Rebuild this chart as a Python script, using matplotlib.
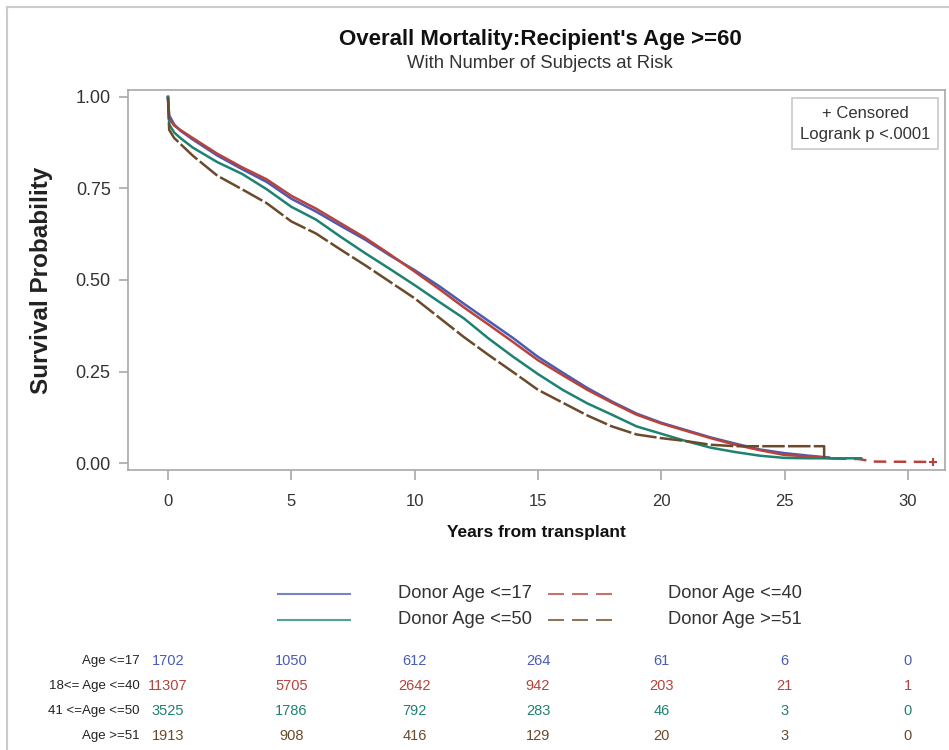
import matplotlib
matplotlib.use('Agg')
import matplotlib.pyplot as plt
import matplotlib.transforms as mtransforms
from matplotlib.lines import Line2D
from matplotlib.ticker import FormatStrFormatter

plt.rcParams['font.family'] = ['Liberation Sans', 'DejaVu Sans']

GROUPS = ['Donor Age <=17', 'Donor Age <=40', 'Donor Age <=50', 'Donor Age >=51']
RISK_LABELS = ['Age <=17', '18<= Age <=40', '41 <=Age <=50', 'Age >=51']
COLORS = ['#4B5BB5', '#B8433A', '#1E8272', '#6A4A2A']
RISK_TIMES = [0, 5, 10, 15, 20, 25, 30]

# number at risk
risk_17 = [1702, 1050, 612, 264, 61, 6, 0]
risk_40 = [11307, 5705, 2642, 942, 203, 21, 1]
risk_50 = [3525, 1786, 792, 283, 46, 3, 0]
risk_51 = [1913, 908, 416, 129, 20, 3, 0]

# survival estimates
years_17 = [0, 0.05, 0.25, 0.5, 1, 2, 3, 4, 5, 6, 7, 8, 9, 10, 11, 12, 13, 14, 15,
            16, 17, 18, 19, 20, 21, 22, 23, 24, 25, 26, 26.8]
surv_17 = [1.0, 0.95, 0.925, 0.908, 0.884, 0.84, 0.803, 0.768, 0.722, 0.687, 0.648,
           0.61, 0.567, 0.527, 0.483, 0.435, 0.388, 0.341, 0.29, 0.247, 0.205, 0.168,
           0.135, 0.11, 0.09, 0.07, 0.053, 0.037, 0.027, 0.02, 0.015]

years_40 = [0, 0.05, 0.25, 0.5, 1, 2, 3, 4, 5, 6, 7, 8, 9, 10, 11, 12, 13, 14, 15,
            16, 17, 18, 19, 20, 21, 22, 23, 24, 25, 26, 27, 28, 28.6, 31]
surv_40 = [1.0, 0.94, 0.922, 0.91, 0.888, 0.845, 0.808, 0.775, 0.73, 0.695, 0.655,
           0.615, 0.57, 0.523, 0.475, 0.425, 0.378, 0.33, 0.281, 0.24, 0.2, 0.165,
           0.132, 0.108, 0.088, 0.068, 0.05, 0.035, 0.022, 0.018, 0.012, 0.011, 0.004, 0.003]

years_50 = [0, 0.05, 0.25, 0.5, 1, 2, 3, 4, 5, 6, 7, 8, 9, 10, 11, 12, 13, 14, 15,
            16, 17, 18, 19, 20, 21, 22, 23, 24, 25, 26, 27, 28.1]
surv_50 = [1.0, 0.925, 0.903, 0.888, 0.862, 0.822, 0.79, 0.748, 0.7, 0.665, 0.618,
           0.573, 0.53, 0.486, 0.44, 0.395, 0.34, 0.29, 0.243, 0.2, 0.163, 0.132,
           0.1, 0.08, 0.06, 0.042, 0.03, 0.02, 0.014, 0.013, 0.013, 0.013]

years_51 = [0, 0.05, 0.25, 0.5, 1, 2, 3, 4, 5, 6, 7, 8, 9, 10, 11, 12, 13, 14, 15,
            16, 17, 18, 19, 20, 21, 22, 23, 24, 25, 26, 26.6, 26.6, 26.8]
surv_51 = [1.0, 0.91, 0.888, 0.872, 0.84, 0.785, 0.748, 0.71, 0.66, 0.627, 0.583,
           0.54, 0.495, 0.45, 0.397, 0.344, 0.295, 0.248, 0.2, 0.165, 0.13, 0.1,
           0.078, 0.068, 0.06, 0.05, 0.046, 0.046, 0.046, 0.046, 0.046, 0.016, 0.016]

GREY = '#A8A8A8'
TXT = '#333333'

fig = plt.figure(figsize=(9.49, 7.5), dpi=100)
ax = fig.add_axes([128 / 949, 1 - 470 / 750, (945 - 128) / 949, (470 - 90) / 750])

# curves
ax.plot(years_17, surv_17, color=COLORS[0], lw=1.8)
cut = years_40.index(27)
ax.plot(years_40[:cut + 1], surv_40[:cut + 1], color=COLORS[1], lw=1.8)
ax.plot(years_40[cut:], surv_40[cut:], color=COLORS[1], lw=1.8, dashes=(5, 3))
ax.plot(years_40[-1], surv_40[-1], marker='+', color=COLORS[1], ms=6, mew=1.5)
ax.plot(years_50, surv_50, color=COLORS[2], lw=1.8)
ax.plot(years_51, surv_51, color=COLORS[3], lw=1.8, dashes=(9, 1.3))

ax.set_xlim(-1.62, 31.5)
ax.set_ylim(-0.019, 1.019)
ax.set_xticks(RISK_TIMES)
ax.set_yticks([0, 0.25, 0.5, 0.75, 1.0])
ax.yaxis.set_major_formatter(FormatStrFormatter('%.2f'))
for s in ax.spines.values():
    s.set_color(GREY)
    s.set_linewidth(1.2)
ax.tick_params(axis='y', direction='out', length=6.5, width=1.2, color=GREY,
               labelsize=13, labelcolor=TXT, pad=6)
ax.tick_params(axis='x', direction='out', length=7, width=1.2, color=GREY,
               labelsize=12, labelcolor=TXT, pad=10)
ax.set_ylabel('Survival Probability', fontsize=17.5, fontweight='bold', color='#222222',
              labelpad=16)
ax.set_xlabel('Years from transplant', fontsize=12.5, fontweight='bold', color='#111111',
              labelpad=12)

# inset box
ax.text(0.902, 0.958, '+ Censored\nLogrank p <.0001', transform=ax.transAxes,
        ha='center', va='top', multialignment='center', fontsize=12, color=TXT,
        linespacing=1.5,
        bbox=dict(boxstyle='square,pad=0.45', fc='white', ec='#C8C8C8', lw=1.2))

# titles
fig.text(540 / 949, 1 - 40 / 750, "Overall Mortality:Recipient's Age >=60",
         ha='center', va='center', fontsize=16, fontweight='bold', color='#111111')
fig.text(540 / 949, 1 - 63 / 750, 'With Number of Subjects at Risk',
         ha='center', va='center', fontsize=13.3, color=TXT)

# outer frame
fig.add_artist(Line2D([7 / 949, 1], [1 - 7 / 750, 1 - 7 / 750], color='#CCCCCC', lw=1.5))
fig.add_artist(Line2D([7 / 949, 7 / 949], [0, 1 - 7 / 750], color='#CCCCCC', lw=1.5))

# legend at bottom
leg_rows = [594, 620]
handles = [(GROUPS[0], COLORS[0], None, 278, 350, 398, 0),
           (GROUPS[1], COLORS[1], (7.68, 3.84), 548, 612, 668, 0),
           (GROUPS[2], COLORS[2], None, 278, 350, 398, 1),
           (GROUPS[3], COLORS[3], (7.68, 3.84), 548, 612, 668, 1)]
for label, col, dash, x0, x1, xt, r in handles:
    y = 1 - leg_rows[r] / 750
    ln = Line2D([x0 / 949, x1 / 949], [y, y], color=col, lw=1.5, alpha=0.75)
    if dash:
        ln.set_dashes(dash)
    fig.add_artist(ln)
    fig.text(xt / 949, y, label, ha='left', va='center', fontsize=13.2, color=TXT)

# number at risk table
trans = mtransforms.blended_transform_factory(ax.transData, fig.transFigure)
risk_rows = [risk_17, risk_40, risk_50, risk_51]
row_y = [661, 686, 711, 736]
for i, (lab, counts) in enumerate(zip(RISK_LABELS, risk_rows)):
    y = 1 - row_y[i] / 750
    fig.text(140 / 949, y, lab, ha='right', va='center', fontsize=9.5, color='#222222')
    for t, n in zip(RISK_TIMES, counts):
        ax.text(t, y, str(n), transform=trans, ha='center', va='center',
                fontsize=10.5, color=COLORS[i], clip_on=False)

fig.savefig('out.png', dpi=100)
